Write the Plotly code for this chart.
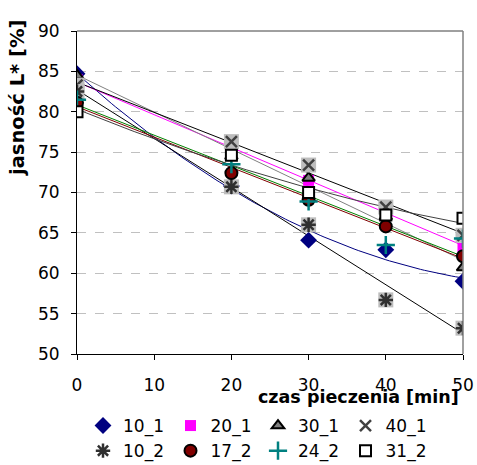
import numpy as np
import plotly.graph_objects as go

# ---- data ----
czas = [0, 20, 30, 40, 50]
s10_1 = [84.7, 70.8, 64.1, 62.9, 59.0]
s20_1 = [84.0, 74.8, 71.5, 68.3, 63.1]
s30_1 = [84.5, 74.5, 71.8, 67.0, 60.7]
s40_1 = [83.3, 76.3, 73.4, 68.2, 64.7]
s10_2 = [82.5, 70.7, 66.0, 56.7, 53.2]
s17_2 = [81.1, 72.4, 69.1, 65.8, 62.1]
s24_2 = [81.5, 73.5, 68.9, 63.5, 64.3]
s31_2 = [80.0, 74.6, 70.0, 67.2, 66.8]
names = ["10_1", "20_1", "30_1", "40_1", "10_2", "17_2", "24_2", "31_2"]
y_ticks = [50, 55, 60, 65, 70, 75, 80, 85, 90]
x_ticks = [0, 10, 20, 30, 40, 50]

series = [s10_1, s20_1, s30_1, s40_1, s10_2, s17_2, s24_2, s31_2]
trend_order = [2, 1, 1, 1, 1, 1, 1, 2]
trend_color = ["#000080", "#FF00FF", "#808080", "#000000", "#000000", "#800000", "#008000", "#404040"]

styles = [
    dict(symbol="diamond", size=13, color="#000080", line=dict(color="#000080", width=0)),
    dict(symbol="square", size=11, color="#FF00FF", line=dict(color="#FF00FF", width=0)),
    dict(symbol="triangle-up", size=11, color="#808080", line=dict(color="#000000", width=2)),
    dict(symbol="x-thin-open", size=11, color="#404040", line=dict(color="#404040", width=2.5)),
    dict(symbol="asterisk-open", size=12, color="#303030", line=dict(color="#303030", width=2.5)),
    dict(symbol="circle", size=12, color="#800000", line=dict(color="#000000", width=2)),
    dict(symbol="cross-thin-open", size=13, color="#008080", line=dict(color="#008080", width=2.5)),
    dict(symbol="square", size=11, color="#FFFFFF", line=dict(color="#000000", width=2)),
]
bg_square = [False, False, False, True, True, False, False, False]

fig = go.Figure()

xs = np.array(czas, dtype=float)
xfit = np.linspace(0, 50, 101)
for ys, order, col in zip(series, trend_order, trend_color):
    coef = np.polyfit(xs, np.array(ys, dtype=float), order)
    fig.add_trace(go.Scatter(x=xfit, y=np.polyval(coef, xfit), mode="lines",
                             line=dict(color=col, width=1), showlegend=False,
                             hoverinfo="skip"))

for name, ys, st, bg in zip(names, series, styles, bg_square):
    if bg:
        fig.add_trace(go.Scatter(x=czas, y=ys, mode="markers", showlegend=False,
                                 marker=dict(symbol="square", size=15, color="#BDBDBD",
                                             line=dict(width=0))))
    fig.add_trace(go.Scatter(x=czas, y=ys, mode="markers", name=name, marker=st))

L, R, T, B = 77, 14, 31, 111
W, H = 477, 465
pw, ph = W - L - R, H - T - B

FONT = "DejaVu Sans, Arial, sans-serif"
fig.update_layout(
    width=W, height=H,
    margin=dict(l=L, r=R, t=T, b=B, autoexpand=False),
    paper_bgcolor="white", plot_bgcolor="white",
    font=dict(family=FONT, size=17, color="#000000"),
    showlegend=True,
    legend=dict(orientation="h", x=6 / pw, xanchor="left", y=-54 / ph, yanchor="top",
                entrywidth=42.5, entrywidthmode="pixels",
                font=dict(size=17), bgcolor="rgba(0,0,0,0)", traceorder="normal"),
    xaxis=dict(range=[0, 50], tickvals=x_ticks, ticks="outside", ticklen=5,
               tickcolor="#000000", showline=True, linecolor="#000000", linewidth=1,
               showgrid=False, zeroline=False, ticklabelstandoff=11, automargin=False,
               tickfont=dict(size=17)),
    yaxis=dict(range=[50, 90], tickvals=y_ticks, ticks="outside", ticklen=5,
               tickcolor="#000000", showline=True, linecolor="#000000", linewidth=1,
               showgrid=True, gridcolor="#C0C0C0", griddash="dash", gridwidth=1,
               zeroline=False, ticklabelstandoff=8, automargin=False,
               tickfont=dict(size=17)),
)

fig.add_shape(type="line", xref="paper", yref="paper", x0=0, x1=1, y0=1, y1=1,
              line=dict(color="#404040", width=1))
fig.add_shape(type="line", xref="paper", yref="paper", x0=1, x1=1, y0=0, y1=1,
              line=dict(color="#808080", width=1.5))

fig.add_annotation(text="<b>czas pieczenia [min]</b>", xref="paper", yref="paper",
                   x=(461 - L) / pw, y=(H - B - 397) / ph, xanchor="right", yanchor="middle",
                   showarrow=False, font=dict(size=17.5))
fig.add_annotation(text="<b>jasność L* [%]</b>", xref="paper", yref="paper",
                   x=(18 - L) / pw, y=(H - B - 98) / ph, xanchor="center", yanchor="middle",
                   textangle=-90, showarrow=False, font=dict(size=19.5))

fig.write_html("out.html")
